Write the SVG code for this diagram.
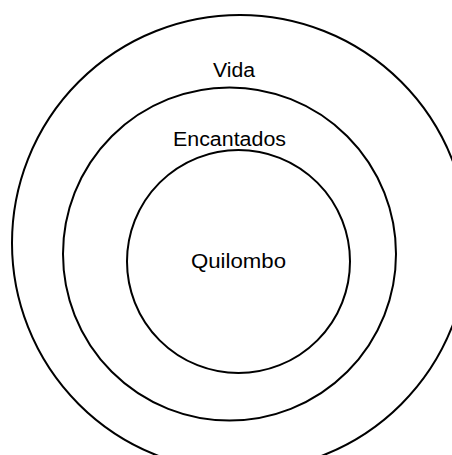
<svg xmlns="http://www.w3.org/2000/svg" width="452" height="455" viewBox="0 0 452 455">
<style>
.ring{fill:none;stroke:#000;stroke-width:2}
.lbl{font-family:"Liberation Sans",Arial,sans-serif;font-size:19.5px;fill:#000}
</style>
<rect width="452" height="455" fill="#fff"/>
<g id="vida">
<circle class="ring" cx="240" cy="243" r="228"/>
<text class="lbl" x="213" y="77" textLength="42" lengthAdjust="spacingAndGlyphs">Vida</text>
</g>
<g id="encantados">
<circle class="ring" cx="229.5" cy="254" r="166.5"/>
<text class="lbl" x="173" y="146" textLength="113" lengthAdjust="spacingAndGlyphs">Encantados</text>
</g>
<g id="quilombo">
<circle class="ring" cx="238.5" cy="261.5" r="111.5"/>
<text class="lbl" x="191" y="268" textLength="95" lengthAdjust="spacingAndGlyphs">Quilombo</text>
</g>
<g id="connectors"/>
</svg>
